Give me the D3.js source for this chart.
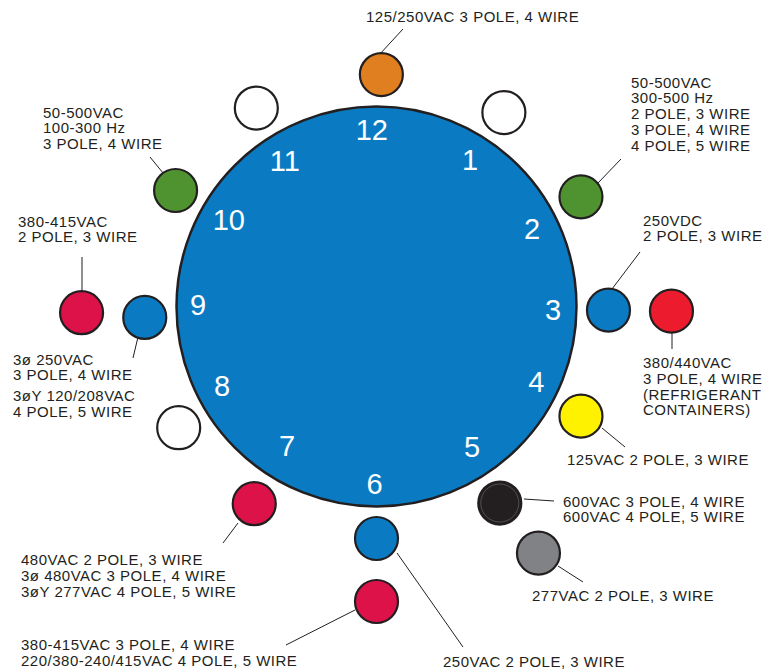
<!DOCTYPE html>
<html>
<head>
<meta charset="utf-8">
<script src="https://cdn.jsdelivr.net/npm/d3@7/dist/d3.min.js"></script>
<style>
  html, body { margin: 0; padding: 0; background: #fff; }
  svg { display: block; }
  .note { font-family: "Liberation Sans", Arial, Helvetica, sans-serif; font-size: 15px; letter-spacing: 0.5px; fill: #231f20; }
  .hour { font-family: "Liberation Sans", Arial, Helvetica, sans-serif; font-size: 29px; fill: #fff; }
</style>
</head>
<body>
<div id="chart"></div>
<script>
// clock face numbers and where they sit (clock hour, distance from centre)
var hourLabels = ["12", "1", "2", "3", "4", "5", "6", "7", "8", "9", "10", "11"];
var hourPos = [-0.05, 1.08, 2.11, 3.03, 3.84, 4.86, 6.02, 7.09, 8.10, 9.02, 10.02, 10.93];
var hourDist = [176.6, 174.6, 174.2, 176.5, 176.5, 169.9, 177.5, 165.7, 173.3, 178.5, 171.5, 172.7];

// keyway pins: clock position, ring (1 = inner, 2 = outer), colour
var pinHour = [0.04, 10.96, 1.11, 10.0, 2.06, 3.03, 3.03, 3.94, 4.93, 4.89, 6.0, 6.0, 7.06, 7.95, 8.91, 8.96];
var pinRing = [1, 1, 1, 1, 1, 1, 2, 1, 1, 2, 1, 2, 1, 1, 1, 2];
var pinColor = ["#e07f1f", "#fff", "#fff", "#4f9331", "#4f9331", "#0a7bc2", "#ec1c2e", "#fff200",
                "#231f20", "#808285", "#0a7bc2", "#dd1249", "#dd1249", "#fff", "#0a7bc2", "#dd1249"];

// callout texts
var noteLines = [
  ["125/250VAC 3 POLE, 4 WIRE"],
  ["50-500VAC", "100-300 Hz", "3 POLE, 4 WIRE"],
  ["380-415VAC", "2 POLE, 3 WIRE"],
  ["3ø 250VAC", "3 POLE, 4 WIRE"],
  ["3øY 120/208VAC", "4 POLE, 5 WIRE"],
  ["50-500VAC", "300-500 Hz", "2 POLE, 3 WIRE", "3 POLE, 4 WIRE", "4 POLE, 5 WIRE"],
  ["250VDC", "2 POLE, 3 WIRE"],
  ["380/440VAC", "3 POLE, 4 WIRE", "(REFRIGERANT", "CONTAINERS)"],
  ["125VAC 2 POLE, 3 WIRE"],
  ["600VAC 3 POLE, 4 WIRE", "600VAC 4 POLE, 5 WIRE"],
  ["277VAC 2 POLE, 3 WIRE"],
  ["250VAC 2 POLE, 3 WIRE"],
  ["380-415VAC 3 POLE, 4 WIRE", "220/380-240/415VAC 4 POLE, 5 WIRE"],
  ["480VAC 2 POLE, 3 WIRE", "3ø 480VAC 3 POLE, 4 WIRE", "3øY 277VAC 4 POLE, 5 WIRE"]
];

// layout (annotation placement, not data)
var width = 765, height = 671;
var cx = 376.5, cy = 306.5, faceR = 200, pinR = 21.5, lineH = 15.8;
var noteAt = [[366, 22], [43, 117.5], [18, 226.5], [13, 364.5], [13, 401], [631, 87.5], [643, 225.5],
              [643, 368], [567, 465], [563, 506.5], [532, 600.5], [443, 667], [21, 650], [21, 565]];
var leaders = [[379, 55, 403, 29], [163, 173, 150, 157], [82, 290, 82, 257], [138, 337, 133, 358],
               [598, 183, 621, 159], [612, 289, 640, 252], [672, 333, 672, 349], [602, 428, 625, 447],
               [524, 499, 554, 501], [558, 566, 583, 582], [397, 553, 463, 647], [355, 610, 286, 645],
               [238, 523, 223, 543]];

var angle = d3.scaleLinear().domain([0, 12]).range([0, 2 * Math.PI]);
var ring = d3.scaleOrdinal().domain([1, 2]).range([232, 295]);

function px(h, r) { return cx + r * Math.sin(angle(h)); }
function py(h, r) { return cy - r * Math.cos(angle(h)); }

var svg = d3.select("#chart").append("svg")
    .attr("width", width)
    .attr("height", height);

// leader lines under everything
svg.append("g").selectAll("line")
    .data(leaders)
    .enter().append("line")
    .attr("x1", function (d) { return d[0]; })
    .attr("y1", function (d) { return d[1]; })
    .attr("x2", function (d) { return d[2]; })
    .attr("y2", function (d) { return d[3]; })
    .attr("stroke", "#231f20")
    .attr("stroke-width", 1);

// big face
svg.append("circle")
    .attr("cx", cx).attr("cy", cy).attr("r", faceR)
    .attr("fill", "#0a7bc2")
    .attr("stroke", "#231f20")
    .attr("stroke-width", 2.5);

svg.append("g").selectAll("text")
    .data(hourLabels)
    .enter().append("text")
    .attr("class", "hour")
    .attr("text-anchor", "middle")
    .attr("x", function (d, i) { return px(hourPos[i], hourDist[i]); })
    .attr("y", function (d, i) { return py(hourPos[i], hourDist[i]); })
    .attr("dy", "0.36em")
    .text(function (d) { return d; });

// pins
svg.append("g").selectAll("circle")
    .data(pinHour)
    .enter().append("circle")
    .attr("cx", function (d, i) { return px(d, ring(pinRing[i])); })
    .attr("cy", function (d, i) { return py(d, ring(pinRing[i])); })
    .attr("r", pinR)
    .attr("fill", function (d, i) { return pinColor[i]; })
    .attr("stroke", "#231f20")
    .attr("stroke-width", 2.2);

// faint inner ring on the black pin
svg.append("circle")
    .attr("cx", px(pinHour[8], ring(pinRing[8])))
    .attr("cy", py(pinHour[8], ring(pinRing[8])))
    .attr("r", pinR - 2.5)
    .attr("fill", "none")
    .attr("stroke", "#6d6e71")
    .attr("stroke-width", 0.6);

// callouts
var notes = svg.append("g").selectAll("text")
    .data(noteLines)
    .enter().append("text")
    .attr("class", "note")
    .attr("x", function (d, i) { return noteAt[i][0]; })
    .attr("y", function (d, i) { return noteAt[i][1]; });

notes.selectAll("tspan")
    .data(function (d, i) { return d.map(function (s) { return {s: s, x: noteAt[i][0]}; }); })
    .enter().append("tspan")
    .attr("x", function (d) { return d.x; })
    .attr("dy", function (d, j) { return j === 0 ? 0 : lineH; })
    .text(function (d) { return d.s; });
</script>
</body>
</html>
